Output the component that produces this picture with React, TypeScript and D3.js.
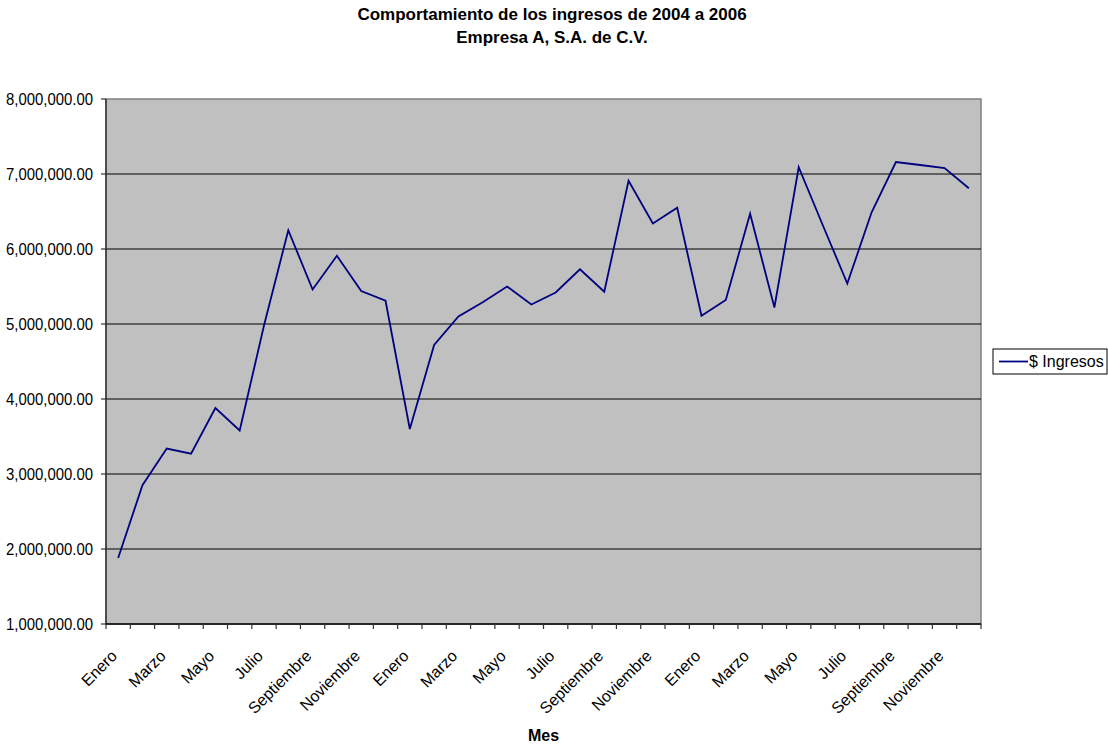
import React from 'react';
import * as d3 from 'd3';

// meses (se repiten por cada año 2004-2006)
const meses = ['Enero', 'Febrero', 'Marzo', 'Abril', 'Mayo', 'Junio', 'Julio', 'Agosto',
    'Septiembre', 'Octubre', 'Noviembre', 'Diciembre'];
const anios = [2004, 2005, 2006];

const ingresos2004 = [1880000, 2850000, 3340000, 3270000, 3880000, 3580000,
    4980000, 6250000, 5460000, 5910000, 5440000, 5310000];
const ingresos2005 = [3600000, 4720000, 5100000, 5290000, 5500000, 5260000,
    5420000, 5730000, 5430000, 6910000, 6340000, 6550000];
const ingresos2006 = [5110000, 5320000, 6470000, 5220000, 7090000, 6310000,
    5540000, 6490000, 7160000, 7120000, 7080000, 6810000];

const yTicks = [1000000, 2000000, 3000000, 4000000, 5000000, 6000000, 7000000, 8000000];

const titulo = ['Comportamiento de los ingresos de 2004 a 2006', 'Empresa A, S.A. de C.V.'];
const serieNombre = '$ Ingresos';

export default function App() {
    const width = 1108, height = 747;
    const margin = {top: 99, right: 127, bottom: 123, left: 106};
    const font = '"Liberation Sans", Arial, sans-serif';

    const data = anios.flatMap((a, ai) => {
        const vals = [ingresos2004, ingresos2005, ingresos2006][ai];
        return meses.map((m, i) => ({key: a + '-' + i, mes: m, idx: i, value: vals[i]}));
    });

    const x = d3.scaleBand<string>()
        .domain(data.map(d => d.key))
        .range([margin.left, width - margin.right]);

    const y = d3.scaleLinear()
        .domain([1000000, 8000000])
        .range([height - margin.bottom, margin.top]);

    const line = d3.line<typeof data[0]>()
        .x(d => (x(d.key) as number) + x.bandwidth() / 2)
        .y(d => y(d.value));

    const fmt = d3.format(',.2f');
    const x0 = margin.left, x1 = width - margin.right;
    const y0 = height - margin.bottom, y1 = margin.top;

    // limites de cada categoria para las marcas del eje
    const bounds = data.map(d => x(d.key) as number).concat([x1]);

    return (
        <svg width={width} height={height} style={{position: 'absolute', left: 0, top: 0, background: '#fff'}}
             fontFamily={font}>
            <text x={552} y={20} textAnchor="middle" fontSize={17} fontWeight="bold">{titulo[0]}</text>
            <text x={552} y={43} textAnchor="middle" fontSize={17} fontWeight="bold">{titulo[1]}</text>

            <rect x={x0} y={y1} width={x1 - x0} height={y0 - y1} fill="#c0c0c0" stroke="#808080" strokeWidth={1.5}/>

            {yTicks.slice(1, -1).map(t => (
                <line key={t} x1={x0} x2={x1} y1={y(t)} y2={y(t)} stroke="#000" strokeWidth={1.1}/>
            ))}

            {/* eje Y */}
            <line x1={x0} x2={x0} y1={y1} y2={y0} stroke="#333" strokeWidth={1.5}/>
            {yTicks.map(t => (
                <g key={t}>
                    <line x1={x0 - 5} x2={x0} y1={y(t)} y2={y(t)} stroke="#333" strokeWidth={1.2}/>
                    <text x={93} y={y(t)} dy="0.35em" textAnchor="end" fontSize={16}
                          textLength={87} lengthAdjust="spacingAndGlyphs">{fmt(t)}</text>
                </g>
            ))}

            {/* eje X */}
            <line x1={x0} x2={x1} y1={y0} y2={y0} stroke="#000" strokeWidth={1.5}/>
            {bounds.map((b, i) => (
                <line key={i} x1={b} x2={b} y1={y0} y2={y0 + 5} stroke="#333" strokeWidth={1.2}/>
            ))}
            {data.filter(d => d.idx % 2 === 0).map(d => {
                const cx = (x(d.key) as number) + x.bandwidth() / 2 - 4;
                const ty = y0 + 29;
                return (
                    <text key={d.key} x={cx} y={ty} textAnchor="end" fontSize={16}
                          transform={`rotate(-45 ${cx} ${ty})`} dy="0.35em">{d.mes}</text>
                );
            })}
            <text x={543.5} y={741} textAnchor="middle" fontSize={16} fontWeight="bold">Mes</text>

            <path d={line(data) as string} fill="none" stroke="#000080" strokeWidth={1.8}/>

            {/* leyenda */}
            <rect x={993} y={349} width={114} height={25} fill="#fff" stroke="#000" strokeWidth={1}/>
            <line x1={999} x2={1028} y1={361.5} y2={361.5} stroke="#000080" strokeWidth={1.8}/>
            <text x={1029} y={361.5} dy="0.35em" fontSize={16}>{serieNombre}</text>
        </svg>
    );
}
